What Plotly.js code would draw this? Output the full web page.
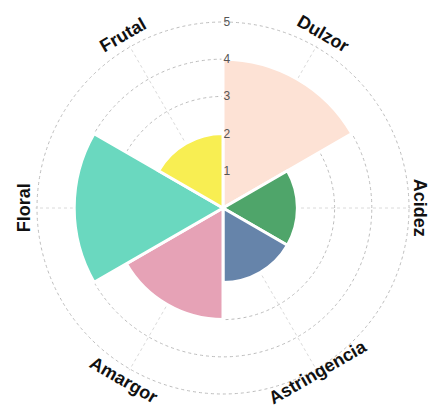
<!DOCTYPE html>
<html>
<head>
<meta charset="utf-8">
<script src="https://cdn.plot.ly/plotly-3.0.1.min.js"></script>
<style>html,body{margin:0;padding:0;background:#fff;}#chart{width:433px;height:408px;}</style>
</head>
<body>
<div id="chart"></div>
<script>
const categories = ['Dulzor', 'Acidez', 'Astringencia', 'Amargor', 'Floral', 'Frutal'];
const values = [4, 2, 2, 3, 4, 2];
const barColors = ['#FDE2D5', '#4FA56A', '#6684AA', '#E6A2B6', '#6AD8BF', '#F8EE52'];
const radialTicks = [1, 2, 3, 4, 5];

const W = 433, H = 408;
const cxPx = 223, cyPx = 208, r5Px = 186;
const rMax = 5;
const rTop = 5.04;
const radPx = r5Px * rTop / rMax;
const dom = {
  x: [(cxPx - radPx) / W, (cxPx + radPx) / W],
  y: [1 - (cyPx + radPx) / H, 1 - (cyPx - radPx) / H]
};
const rotation = 60;
const labelR = [5.4, 5.3, 5.1, 5.35, 5.34, 5.37];

const annotations = categories.map((c, i) => {
  const ang = rotation - i * 360 / categories.length; // clockwise
  const rad = ang * Math.PI / 180;
  const px = cxPx + (labelR[i] / rMax) * r5Px * Math.cos(rad);
  const py = cyPx - (labelR[i] / rMax) * r5Px * Math.sin(rad);
  let ta = 90 - ang;
  while (ta > 180) ta -= 360;
  while (ta <= -180) ta += 360;
  if (ta > 90) ta -= 180;
  if (ta < -90) ta += 180;
  return {
    text: c, xref: 'paper', yref: 'paper', x: px / W, y: 1 - py / H,
    xanchor: 'center', yanchor: 'middle', showarrow: false, textangle: ta,
    font: {family: 'Liberation Sans, Arial, sans-serif', size: 18, color: '#111', weight: 'bold'}
  };
});

const trace = {
  type: 'barpolar',
  r: values,
  theta: categories,
  marker: {color: barColors, line: {color: '#ffffff', width: 3}},
  hoverinfo: 'none'
};

const layout = {
  width: W, height: H,
  margin: {l: 0, r: 0, t: 0, b: 0},
  paper_bgcolor: '#fff',
  showlegend: false,
  polar: {
    domain: dom,
    bgcolor: '#fff',
    bargap: 0,
    angularaxis: {
      direction: 'clockwise', rotation: rotation, showticklabels: false,
      ticks: '', showline: false, gridcolor: '#dadada', griddash: 'dot', gridwidth: 1
    },
    radialaxis: {
      range: [0, rTop], angle: 90, tickangle: 90, tickvals: radialTicks,
      showline: false, ticks: '', gridcolor: '#bdbdbd', griddash: 'dot', gridwidth: 1,
      tickfont: {family: 'Liberation Sans, Arial, sans-serif', size: 12, color: '#555'}
    }
  },
  annotations: annotations
};

Plotly.newPlot('chart', [trace], layout, {displayModeBar: false, staticPlot: true});
</script>
</body>
</html>
